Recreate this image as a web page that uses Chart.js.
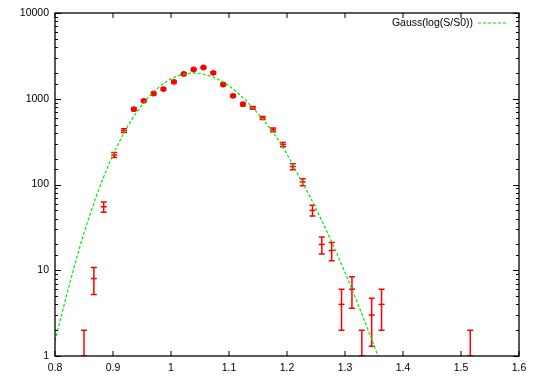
<!DOCTYPE html>
<html>
<head>
<meta charset="utf-8">
<script src="https://cdn.jsdelivr.net/npm/chart.js@4.4.1/dist/chart.umd.min.js"></script>
<style>
  html, body { margin: 0; padding: 0; background: #fff; }
</style>
</head>
<body>
<canvas id="gaussGraph" width="538" height="377"></canvas>
<script>
const gaussGraph_el = document.getElementById('gaussGraph');
const ctxGauss = gaussGraph_el.getContext('2d');

// measured histogram (S/S0 bins), counts and their errors
const sizes = [0.850, 0.867, 0.884, 0.902, 0.919, 0.936, 0.953, 0.970, 0.987, 1.005, 1.022, 1.039,
  1.056, 1.073, 1.090, 1.107, 1.124, 1.141, 1.158, 1.176, 1.193, 1.210, 1.227, 1.244,
  1.260, 1.277, 1.294, 1.312, 1.329, 1.346, 1.363, 1.516];
const counts = [1, 8, 55, 221, 425, 756, 945, 1150, 1295, 1575, 1950, 2193,
  2313, 2005, 1465, 1081, 865, 783, 598, 434, 292, 162, 107, 50,
  20, 17, 4, 6, 1, 3, 4, 1];
const countErrors = [1, 2.8, 7.4, 15, 21, 27, 31, 34, 36, 40, 44, 47,
  48, 45, 38, 33, 29, 28, 24, 21, 17, 13, 10, 7.1,
  4.5, 4.1, 2, 2.4, 1, 1.7, 2, 1];

// fitted curve
const fitX = [0.80, 0.82, 0.84, 0.86, 0.88, 0.90, 0.92, 0.94, 0.96, 0.98, 1.00, 1.02, 1.04, 1.06, 1.08,
  1.10, 1.12, 1.14, 1.16, 1.18, 1.20, 1.22, 1.24, 1.26, 1.28, 1.30, 1.32, 1.34, 1.36];
const fitY = [1.5, 5.1, 16.1, 44, 105, 221, 412, 684, 1022, 1382, 1704, 1919, 1991, 1907, 1698,
  1407, 1091, 796, 560, 370, 225, 127, 71, 37.8, 19.3, 9.4, 4.4, 2.0, 0.88];

const xTickValues = [0.8, 0.9, 1.0, 1.1, 1.2, 1.3, 1.4, 1.5, 1.6];
const legendLabel = 'Gauss(log(S/S0))';

const FONT_FAMILY = '"Liberation Sans", Arial, sans-serif';
const RED = '#ff0000';
const GREEN = '#00e600';

function isDecade(v) {
  const l = Math.log10(v);
  return Math.abs(l - Math.round(l)) < 1e-6;
}

function isPeakBin(c) {
  return c.raw && c.raw.x > 0.93 && c.raw.x < 1.13;
}

// error bars go under the markers
const errorBarPlugin = {
  id: 'errorBars',
  beforeDatasetsDraw(chart) {
    const { ctx, chartArea, scales: { x, y } } = chart;
    ctx.save();
    ctx.beginPath();
    ctx.rect(chartArea.left, chartArea.top, chartArea.width, chartArea.height);
    ctx.clip();
    ctx.strokeStyle = RED;
    ctx.lineWidth = 1.5;
    sizes.forEach((s, i) => {
      const px = x.getPixelForValue(s);
      const hi = counts[i] + countErrors[i];
      const lo = counts[i] - countErrors[i];
      const pyTop = y.getPixelForValue(hi);
      const pyBot = lo > 0 ? y.getPixelForValue(lo) : chartArea.bottom + 2;
      ctx.beginPath();
      ctx.moveTo(px, pyTop);
      ctx.lineTo(px, pyBot);
      ctx.moveTo(px - 3, pyTop);
      ctx.lineTo(px + 3, pyTop);
      if (lo > 0) {
        ctx.moveTo(px - 3, pyBot);
        ctx.lineTo(px + 3, pyBot);
      }
      ctx.stroke();
    });
    ctx.restore();
  }
};

// gnuplot style box with inward ticks, plus the key
const framePlugin = {
  id: 'frame',
  afterDraw(chart) {
    const { ctx, chartArea: { left, right, top, bottom }, scales: { x, y } } = chart;
    ctx.save();
    ctx.strokeStyle = '#000';
    ctx.lineWidth = 1;
    ctx.beginPath();
    xTickValues.forEach(v => {
      const px = Math.round(x.getPixelForValue(v));
      ctx.moveTo(px, bottom);
      ctx.lineTo(px, bottom - 5);
      ctx.moveTo(px, top);
      ctx.lineTo(px, top + 5);
    });
    y.ticks.forEach(t => {
      const py = Math.round(y.getPixelForValue(t.value)) + 0.5;
      const len = isDecade(t.value) ? 6 : 3;
      ctx.moveTo(left, py);
      ctx.lineTo(left + len, py);
      ctx.moveTo(right, py);
      ctx.lineTo(right - len, py);
    });
    ctx.stroke();
    ctx.lineWidth = 1.3;
    ctx.strokeRect(left, top, right - left, bottom - top);

    // key
    ctx.font = '10.5px ' + FONT_FAMILY;
    ctx.fillStyle = '#000';
    ctx.textAlign = 'right';
    ctx.textBaseline = 'middle';
    ctx.fillText(legendLabel, right - 46, top + 10);
    ctx.strokeStyle = GREEN;
    ctx.lineWidth = 1.2;
    ctx.setLineDash([3, 2]);
    ctx.beginPath();
    ctx.moveTo(right - 41, top + 10);
    ctx.lineTo(right - 11, top + 10);
    ctx.stroke();
    ctx.restore();
  }
};

function createGaussGraph() {
  return new Chart(ctxGauss, {
    data: {
      datasets: [{
        type: 'line',
        label: legendLabel,
        data: fitX.map((v, i) => ({ x: v, y: fitY[i] })),
        borderColor: GREEN,
        borderWidth: 1.2,
        borderDash: [3, 2],
        pointRadius: 0,
        cubicInterpolationMode: 'monotone',
        fill: false
      }, {
        type: 'scatter',
        label: 'data',
        data: sizes.map((v, i) => ({ x: v, y: counts[i] })),
        pointStyle: c => isPeakBin(c) ? 'circle' : 'line',
        pointRadius: c => isPeakBin(c) ? 2.2 : 3,
        pointBorderWidth: 1.5,
        pointBackgroundColor: RED,
        pointBorderColor: RED
      }]
    },
    options: {
      responsive: false,
      animation: false,
      devicePixelRatio: 1,
      layout: { padding: { top: 13, right: 19, left: 0, bottom: 0 } },
      plugins: {
        legend: { display: false },
        tooltip: { enabled: false }
      },
      scales: {
        x: {
          type: 'linear',
          min: 0.8,
          max: 1.6,
          grid: { display: false, drawTicks: false },
          border: { display: false },
          afterFit: s => { s.height = 21; },
          ticks: {
            stepSize: 0.1,
            autoSkip: false,
            maxRotation: 0,
            padding: 6,
            color: '#000',
            font: { family: FONT_FAMILY, size: 10.5 },
            callback: v => String(Number(v.toFixed(1)))
          }
        },
        y: {
          type: 'logarithmic',
          min: 1,
          max: 10000,
          grid: { display: false, drawTicks: false },
          border: { display: false },
          afterFit: s => { s.width = 55; },
          ticks: {
            autoSkip: false,
            padding: 6,
            color: '#000',
            font: { family: FONT_FAMILY, size: 10.5 },
            callback: v => isDecade(v) ? String(Math.round(v)) : ''
          }
        }
      }
    },
    plugins: [errorBarPlugin, framePlugin]
  });
}

document.addEventListener('DOMContentLoaded', () => {
  createGaussGraph();
});
</script>
</body>
</html>
